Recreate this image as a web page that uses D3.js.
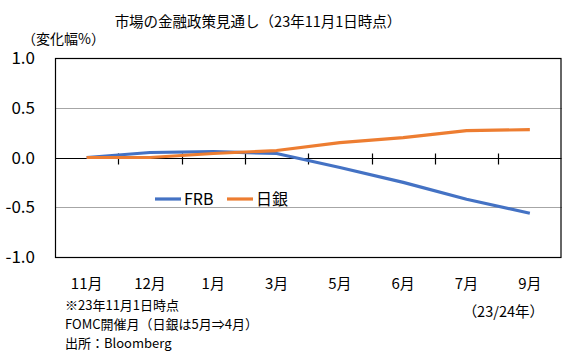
<!DOCTYPE html>
<meta charset="utf-8">
<style>
    body { margin: 0; background: #fff; }
    svg { font-family: "Noto Sans CJK JP", "Noto Sans", sans-serif; }
    .grid line { stroke: #a6a6a6; stroke-width: 1; shape-rendering: crispEdges; }
    .line { fill: none; stroke-width: 3.2; stroke-linejoin: round; stroke-linecap: butt; }
</style>
<body>
<script src="https://cdn.jsdelivr.net/npm/d3@7"></script>
<script>

    // data
    var months = ["11月", "12月", "1月", "3月", "5月", "6月", "7月", "9月"];
    var frb = [0.0, 0.05, 0.06, 0.04, -0.10, -0.25, -0.42, -0.56];
    var boj = [0.0, 0.0, 0.04, 0.07, 0.15, 0.20, 0.27, 0.28];
    var yTicks = [-1.0, -0.5, 0.0, 0.5, 1.0];
    var notes = ["※23年11月1日時点", "FOMC開催月（日銀は5月⇒4月）", "出所：Bloomberg"];

    var W = 576, H = 362;
    var plot = { left: 55, right: 561.5, top: 58, bottom: 257 };

    var svg = d3.select("body").append("svg")
        .attr("width", W)
        .attr("height", H);

    var x = d3.scaleBand().domain(months).range([plot.left, plot.right]).padding(0);
    var y = d3.scaleLinear().domain([-1, 1]).range([plot.bottom, plot.top]);
    var cx = function (m) { return x(m) + x.bandwidth() / 2; };

    // title
    svg.append("text")
        .attr("x", 258).attr("y", 27)
        .attr("text-anchor", "middle")
        .style("font-size", "14.5px")
        .text("市場の金融政策見通し（23年11月1日時点）");

    svg.append("text")
        .attr("x", 22).attr("y", 44)
        .style("font-size", "14px")
        .text("（変化幅%）");

    // gridlines at +-0.5
    svg.append("g").attr("class", "grid")
        .selectAll("line")
        .data([0.5, -0.5])
        .enter().append("line")
        .attr("x1", plot.left).attr("x2", plot.right)
        .attr("y1", function (d) { return Math.round(y(d)) + 0.5; })
        .attr("y2", function (d) { return Math.round(y(d)) + 0.5; });

    // frame
    svg.append("rect")
        .attr("x", plot.left + 0.5).attr("y", plot.top + 0.5)
        .attr("width", plot.right - plot.left - 1)
        .attr("height", plot.bottom - plot.top)
        .attr("fill", "none").attr("stroke", "#000").attr("stroke-width", 1.2);

    // y labels
    svg.append("g")
        .selectAll("text")
        .data(yTicks)
        .enter().append("text")
        .attr("x", 35).attr("y", function (d) { return y(d); })
        .attr("dy", "0.36em")
        .attr("text-anchor", "end")
        .style("font-size", "17px")
        .text(function (d) { return d3.format(".1f")(d).replace("−", "-"); });

    // zero axis with crossing ticks between categories
    var zero = Math.round(y(0)) + 0.5;
    var axis = svg.append("g").attr("stroke", "#000").attr("stroke-width", 1.2);
    axis.append("line")
        .attr("x1", plot.left).attr("x2", plot.right)
        .attr("y1", zero).attr("y2", zero);
    axis.selectAll(".tick")
        .data(months.slice(1))
        .enter().append("line")
        .attr("class", "tick")
        .attr("x1", function (d) { return Math.round(x(d)) + 0.5; })
        .attr("x2", function (d) { return Math.round(x(d)) + 0.5; })
        .attr("y1", zero - 5).attr("y2", zero + 6);

    // x labels
    svg.append("g")
        .selectAll("text")
        .data(months)
        .enter().append("text")
        .attr("x", cx).attr("y", 289)
        .attr("text-anchor", "middle")
        .style("font-size", "15px")
        .text(function (d) { return d; });

    // lines
    var line = d3.line()
        .x(function (d, i) { return cx(months[i]); })
        .y(function (d) { return y(d); });

    svg.append("path").attr("class", "line")
        .attr("stroke", "#4472c4").attr("d", line(frb));
    svg.append("path").attr("class", "line")
        .attr("stroke", "#ed7d31").attr("d", line(boj));

    // legend
    var legend = [{ name: "FRB", color: "#4472c4", x: 155 }, { name: "日銀", color: "#ed7d31", x: 227 }];
    var lg = svg.append("g").selectAll("g")
        .data(legend)
        .enter().append("g")
        .attr("transform", function (d) { return "translate(" + d.x + ",199)"; });
    lg.append("line")
        .attr("x1", 0).attr("x2", 26)
        .attr("stroke", function (d) { return d.color; })
        .attr("stroke-width", 3.2);
    lg.append("text")
        .attr("x", 29).attr("dy", "0.36em")
        .style("font-size", "16px")
        .text(function (d) { return d.name; });

    // notes
    svg.append("g")
        .selectAll("text")
        .data(notes)
        .enter().append("text")
        .attr("x", 65).attr("y", function (d, i) { return 305 + i * 19; })
        .attr("dy", "0.36em")
        .style("font-size", "13px")
        .text(function (d) { return d; });

    svg.append("text")
        .attr("x", 544).attr("y", 312)
        .attr("dy", "0.36em")
        .attr("text-anchor", "end")
        .style("font-size", "14.5px")
        .text("（23/24年）");

</script>
</body>
